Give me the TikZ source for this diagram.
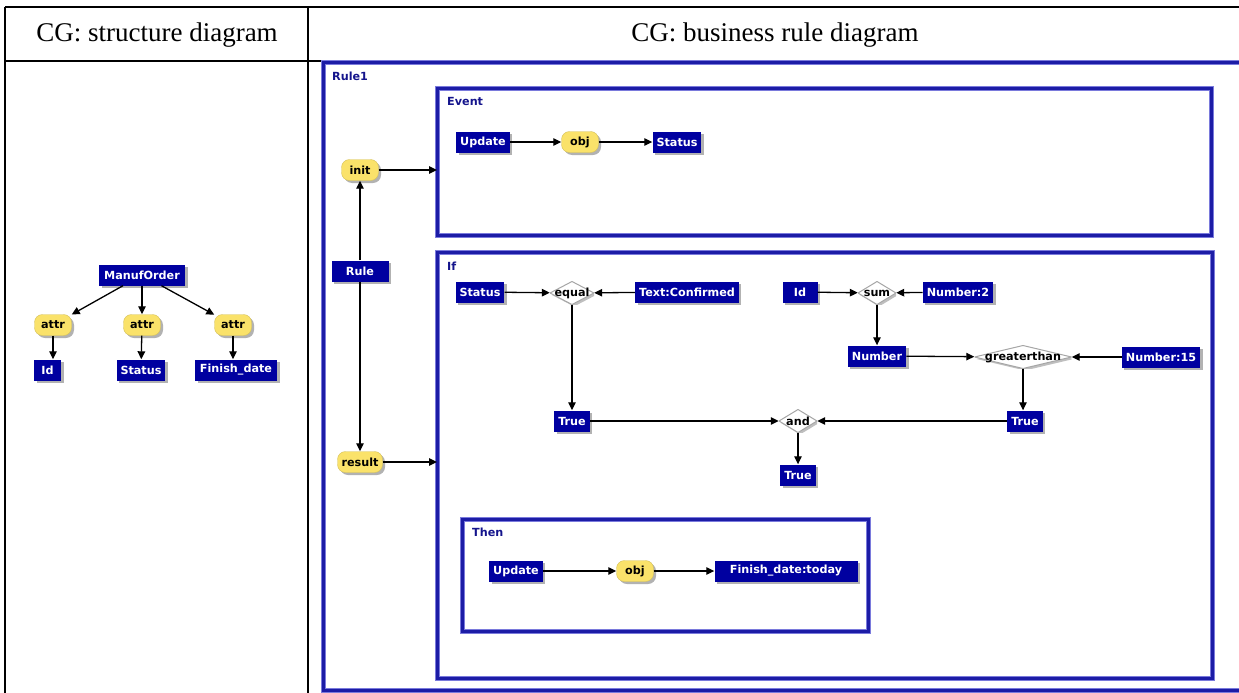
\documentclass[tikz,border=0pt]{standalone}
\usepackage{fontspec}
\setmainfont{Liberation Serif}
\newfontfamily\cgfont{DejaVu Sans}
\usetikzlibrary{arrows.meta,positioning,shadows}
\definecolor{cgblue}{HTML}{0000A0}
\definecolor{cgyellow}{HTML}{FAE26A}
\definecolor{cgframe}{HTML}{1C1CA6}
\definecolor{cghalo}{HTML}{7A7ADC}
\definecolor{cglabel}{HTML}{14148C}
\tikzset{
      arr/.style = {-{Triangle[length=8pt,width=7.5pt]}, line width=1.3pt},
   cgtext/.style = {font=\cgfont\bfseries\fontsize{11.2}{13}\selectfont},
      cpt/.style = {cgtext, fill=cgblue, text=white, minimum height=21pt,
                    inner xsep=4pt, inner ysep=0pt,
                    drop shadow={shadow xshift=2.5pt, shadow yshift=-2.5pt,
                                 fill=black, opacity=0.3}},
      rel/.style = {cgtext, fill=cgyellow, draw=cgyellow!85!black, thin,
                    rounded corners=8pt, minimum height=21pt, minimum width=37pt,
                    inner xsep=4pt, inner ysep=0pt,
                    drop shadow={shadow xshift=2.5pt, shadow yshift=-2.5pt,
                                 fill=black, opacity=0.3}},
      act/.style = {cgtext, minimum height=23pt, inner sep=0pt,
                    path picture={
                      \fill[black, opacity=0.25]
                        ([xshift=2pt,yshift=-2pt]path picture bounding box.west)
                        -- ([xshift=2pt,yshift=-2pt]path picture bounding box.north)
                        -- ([xshift=2pt,yshift=-2pt]path picture bounding box.east)
                        -- ([xshift=2pt,yshift=-2pt]path picture bounding box.south) -- cycle;
                      \filldraw[fill=white, draw=gray!70, line width=1pt]
                        (path picture bounding box.west) -- (path picture bounding box.north)
                        -- (path picture bounding box.east) -- (path picture bounding box.south) -- cycle;
                    }},
    frame/.style = {draw=cgframe, line width=3pt,
                    preaction={draw=cghalo, line width=5pt},
                    anchor=north west, inner sep=0pt, outer sep=0pt},
   flabel/.style = {cgtext, text=cglabel, inner sep=0pt, anchor=north west},
      tbl/.style = {line width=1.5pt},
     head/.style = {font=\fontsize{27}{31}\selectfont},
}
\begin{document}
\begin{tikzpicture}[x=1pt,y=-1pt]
\useasboundingbox (0,0) rectangle (1239,693);
% table
\draw[tbl] (5,7) -- (1250,7) (5,61) -- (1250,61) (5,7) -- (5,700) (308,7) -- (308,700);
\node[head] (h1) at (157,35) {CG: structure diagram};
\node[head] (h2) at (775,35) {CG: business rule diagram};

% structure diagram
\node[cpt, minimum width=86pt] (mo) at (142,275) {ManufOrder};
\path[nodes=rel]
  (53,325) node (a1) {attr}
  (142,325) node (a2) {attr}
  (233,325) node (a3) {attr};
\node[cpt, minimum width=27pt] (sid) at (47.5,370) {Id};
\node[cpt] (sst) at (141,370) {Status};
\node[cpt, minimum width=82pt] (sfd) at (236,370) {Finish\_date};
\foreach \a in {a1,a2,a3} \draw[arr] (mo) -- (\a);
\draw[arr] (a1) -- (a1 |- sid.north);
\draw[arr] (a2) -- (sst);
\draw[arr] (a3) -- (a3 |- sfd.north);

% business rule diagram: frames
\node[frame, minimum width=930pt, minimum height=627pt] (rf) at (323,63) {};
\node[frame, minimum width=774pt, minimum height=147pt] (ef) at (437,88) {};
\node[frame, minimum width=775pt, minimum height=426pt] (iff) at (437,252) {};
\node[frame, minimum width=406pt, minimum height=112pt] (tf) at (462,519) {};
\node[flabel, below right=9pt and 9pt of rf.north west] (lr) {Rule1};
\node[flabel, below right=9pt and 10pt of ef.north west] (le) {Event};
\node[flabel, below right=10pt and 10pt of iff.north west] (li) {If};
\node[flabel, below right=9pt and 10pt of tf.north west] (lt) {Then};

% rule
\node[cpt, minimum width=57pt] (rule) at (360,271) {Rule};
\node[rel] (init) at (360,170) {init};
\node[rel, minimum width=45pt] (res) at (360,462) {result};
\draw[arr] (rule) -- (rule |- init.south);
\draw[arr] (rule) -- (rule |- res.north);
\draw[arr] (init) -- (init -| ef.west);
\draw[arr] (res) -- (res -| iff.west);

% event
\node[cpt] (eu) at (483,142) {Update};
\node[rel] (eo) at (580,142) {obj};
\node[cpt] (es) at (677,142) {Status};
\draw[arr] (eu) -- (eo);
\draw[arr] (eo) -- (es);

% if
\node[cpt] (ist) at (480,292) {Status};
\node[act, minimum width=44pt] (eq) at (572,293) {equal};
\node[cpt] (itc) at (687,292) {Text:Confirmed};
\node[cpt] (t1) at (572,421) {True};
\node[cpt, minimum width=35pt] (iid) at (800,292) {Id};
\node[act, minimum width=38pt] (sum) at (877,293) {sum};
\node[cpt] (n2) at (958,292) {Number:2};
\node[cpt] (num) at (877,356) {Number};
\node[act, minimum width=97pt] (gt) at (1023,357) {greaterthan};
\node[cpt] (n15) at (1161,357) {Number:15};
\node[cpt] (t2) at (1025,421) {True};
\node[act, minimum width=38pt] (and) at (798,421) {and};
\node[cpt] (t3) at (798,475) {True};
\draw[arr] (ist) -- (eq);
\draw[arr] (itc) -- (eq);
\draw[arr] (eq) -- (t1);
\draw[arr] (iid) -- (sum);
\draw[arr] (n2) -- (sum);
\draw[arr] (sum) -- (num);
\draw[arr] (num) -- (gt);
\draw[arr] (n15) -- (gt);
\draw[arr] (gt) -- (gt |- t2.north);
\draw[arr] (t1) -- (and);
\draw[arr] (t2) -- (and);
\draw[arr] (and) -- (t3);

% then
\node[cpt] (tu) at (516,571) {Update};
\node[rel] (to) at (635,571) {obj};
\node[cpt, minimum width=143pt] (tfd) at (786,571) {Finish\_date:today};
\draw[arr] (tu) -- (to);
\draw[arr] (to) -- (tfd);
\end{tikzpicture}
\end{document}
